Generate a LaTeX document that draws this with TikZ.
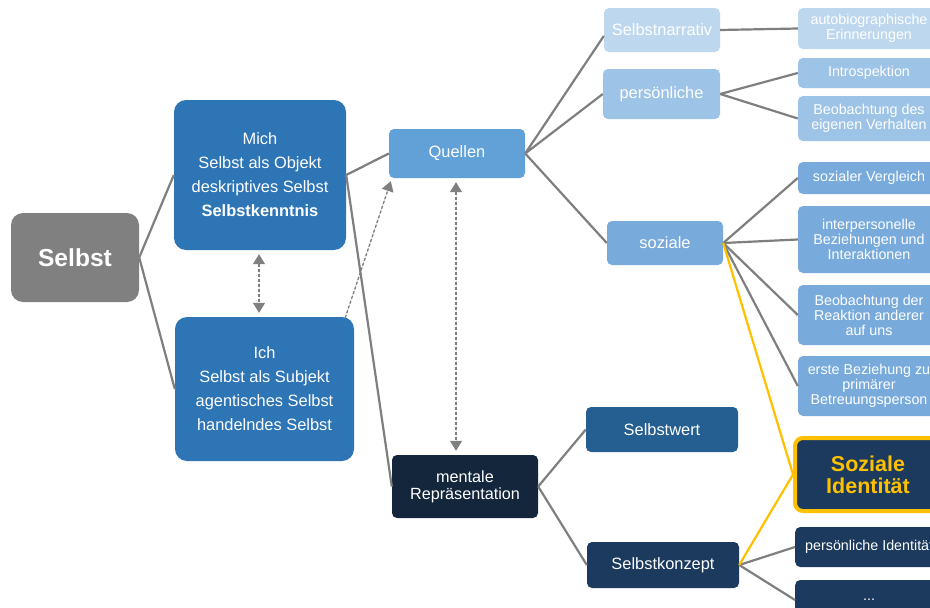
\documentclass[tikz,border=0pt]{standalone}
\usepackage{fontspec}
\setmainfont{Liberation Sans}
\usetikzlibrary{arrows.meta,calc}
\definecolor{cgray}{HTML}{808080}
\definecolor{cline}{HTML}{7F7F7F}
\definecolor{cmid}{HTML}{2E75B6}
\definecolor{cquel}{HTML}{62A0D8}
\definecolor{clight}{HTML}{BDD7EE}
\definecolor{cpers}{HTML}{9DC3E6}
\definecolor{csoz}{HTML}{78AADC}
\definecolor{cwert}{HTML}{255E91}
\definecolor{cdark}{HTML}{13263C}
\definecolor{cnavy}{HTML}{1B3A5D}
\definecolor{cyel}{HTML}{FFC000}
\begin{document}
\begin{tikzpicture}[x=1pt,y=-1pt,
  box/.style={rectangle,rounded corners=5pt,inner sep=0pt,align=center,text=white,
    font=\fontsize{16.4}{18}\selectfont},
  bigbox/.style={box,rounded corners=12pt,font=\fontsize{16.4}{24}\selectfont},
  leaf/.style={box,font=\fontsize{14.3}{15}\selectfont},
  conn/.style={draw=cline,line width=2.2pt},
  yconn/.style={draw=cyel,line width=2.2pt},
  dashline/.style={draw=cline,line width=1.3pt,dash pattern=on 3pt off 2pt},
  tipend/.style={-{Triangle[width=12pt,length=10pt]}},
  tipboth/.style={{Triangle[width=12pt,length=10pt]}-{Triangle[width=12pt,length=10pt]}}
]
\useasboundingbox (0,0) rectangle (930,608);
\clip (0,0) rectangle (930,608);
\fill[white] (0,0) rectangle (930,608);

% level 0/1
\node[bigbox,fill=cgray,minimum width=128pt,minimum height=89pt,font=\fontsize{24.6}{28}\selectfont\bfseries] (selbst) at (75,257.5) {Selbst};
\node[bigbox,fill=cmid,minimum width=172pt,minimum height=150pt] (mich) at (260,175) {Mich\\Selbst als Objekt\\deskriptives Selbst\\\textbf{Selbstkenntnis}};
\node[bigbox,fill=cmid,minimum width=179pt,minimum height=144pt] (ich) at (264.5,389) {Ich\\Selbst als Subjekt\\agentisches Selbst\\handelndes Selbst};

% level 2
\node[box,fill=cquel,minimum width=136pt,minimum height=49pt] (quellen) at (457,153.5) {Quellen};
\node[box,fill=cdark,minimum width=146pt,minimum height=63pt,font=\fontsize{16.2}{17}\selectfont] (mental) at (465,486.5) {mentale\\Repräsentation};

% level 3
\node[box,fill=clight,minimum width=116pt,minimum height=44pt] (narrativ) at (662,30) {Selbstnarrativ};
\node[box,fill=cpers,minimum width=117pt,minimum height=50pt] (persoen) at (661.5,94) {persönliche};
\node[box,fill=csoz,minimum width=116pt,minimum height=44pt] (soziale) at (665,243) {soziale};
\node[box,fill=cwert,minimum width=152pt,minimum height=45pt] (wert) at (662,429.5) {Selbstwert};
\node[box,fill=cnavy,minimum width=152pt,minimum height=46pt] (konzept) at (663,565) {Selbstkonzept};

% level 4
\node[leaf,fill=clight,minimum width=142pt,minimum height=41pt] (autobio) at (869,28.5) {autobiographische\\Erinnerungen};
\node[leaf,fill=cpers,minimum width=142pt,minimum height=30pt] (intro) at (869,73) {Introspektion};
\node[leaf,fill=cpers,minimum width=142pt,minimum height=45pt] (beobeig) at (869,118.5) {Beobachtung des\\eigenen Verhalten};
\node[leaf,fill=csoz,minimum width=142pt,minimum height=32pt] (vergl) at (869,178) {sozialer Vergleich};
\node[leaf,fill=csoz,minimum width=142pt,minimum height=67pt] (interp) at (869,239.5) {interpersonelle\\Beziehungen und\\Interaktionen};
\node[leaf,fill=csoz,minimum width=142pt,minimum height=60pt] (reakt) at (869,315) {Beobachtung der\\Reaktion anderer\\auf uns};
\node[leaf,fill=csoz,minimum width=142pt,minimum height=60pt] (erste) at (869,386) {erste Beziehung zu\\primärer\\Betreuungsperson};
\node[box,fill=cnavy,draw=cyel,line width=4pt,rounded corners=8pt,minimum width=146pt,minimum height=73pt,text=cyel,font=\fontsize{21.5}{22}\selectfont\bfseries] (sozid) at (868,474.5) {Soziale\\Identität};
\node[leaf,fill=cnavy,minimum width=148pt,minimum height=40pt,anchor=west] (persid) at (795,547) {persönliche Identität};
\node[leaf,fill=cnavy,minimum width=148pt,minimum height=40pt,anchor=west] (dots) at (795,600) {...};

% connectors
\draw[conn] (selbst.east) -- (mich.west);
\draw[conn] (selbst.east) -- (ich.west);
\draw[conn] (mich.east) -- (quellen.west);
\draw[conn] (mich.east) -- (mental.west);
\draw[conn] (quellen.east) -- ($(narrativ.west)+(0,6)$);
\draw[conn] (quellen.east) -- (persoen.west);
\draw[conn] (quellen.east) -- (soziale.west);
\draw[conn] (narrativ.east) -- (autobio.west);
\draw[conn] (persoen.east) -- (intro.west);
\draw[conn] (persoen.east) -- (beobeig.west);
\draw[conn] (soziale.east) -- (vergl.west);
\draw[conn] (soziale.east) -- (interp.west);
\draw[conn] (soziale.east) -- (reakt.west);
\draw[conn] (soziale.east) -- (erste.west);
\draw[conn] (mental.east) -- (wert.west);
\draw[conn] (mental.east) -- (konzept.west);
\draw[conn] (konzept.east) -- (persid.west);
\draw[conn] (konzept.east) -- (dots.west);
\draw[yconn] (soziale.east) -- (sozid.west);
\draw[yconn] (konzept.east) -- (sozid.west);

% dashed arrows
\draw[dashline,tipboth,fill=cline] ($(mich.south)+(-1,4)$) -- ($(mich.south|-ich.north)+(-1,-4)$);
\draw[dashline,tipend,fill=cline] ($(ich.north east)+(-9,1)$) -- ($(quellen.south west)+(2,3)$);
\draw[dashline,tipboth,fill=cline] ($(quellen.south)+(-1,4)$) -- ($(quellen.south|-mental.north)+(-1,-4)$);
\end{tikzpicture}
\end{document}
